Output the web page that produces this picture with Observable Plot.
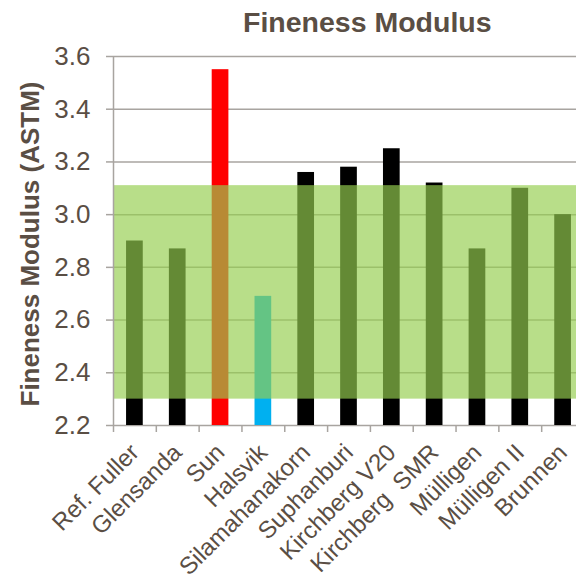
<!DOCTYPE html>
<html>
<head>
<meta charset="utf-8">
<script src="https://cdn.jsdelivr.net/npm/d3@7"></script>
<script src="https://cdn.jsdelivr.net/npm/@observablehq/plot@0.6"></script>
<style>
  html, body { margin: 0; padding: 0; background: #fff; }
  #wrap { width: 576px; height: 574px; overflow: hidden; font-family: "Liberation Sans", Arial, sans-serif; }
  #title { height: 44px; padding-top: 2px; box-sizing: border-box; line-height: 40px; font-size: 28.5px;
           font-weight: bold; color: #5a4e44; padding-left: 243px; white-space: nowrap; }
  #chart { width: 576px; overflow: hidden; }
  #chart svg { display: block; overflow: hidden; max-width: none; }
  #chart svg text { white-space: pre; }
</style>
</head>
<body>
<div id="wrap">
  <div id="title">Fineness Modulus</div>
  <div id="chart"></div>
</div>
<script>
// Fineness modulus of each sand (ASTM)
const samples = ["Ref. Fuller", "Glensanda", "Sun", "Halsvik", "Silamahanakorn", "Suphanburi",
                 "Kirchberg V20", "Kirchberg  SMR", "Mülligen", "Mülligen II", "Brunnen"];
const modulus = [2.90, 2.87, 3.55, 2.69, 3.16, 3.18, 3.25, 3.12, 2.87, 3.10, 3.00];

// Recommended range of the fineness modulus
const rangeLow = 2.3;
const rangeHigh = 3.11;

// Value axis
const yTicks = [2.2, 2.4, 2.6, 2.8, 3.0, 3.2, 3.4, 3.6];

const data = samples.map((name, i) => ({name, value: modulus[i]}));

const textColor = "#5a4e44";
const gridColor = "#a8a4a0";
const barFill = d => d.name === "Sun" ? "#ff0000" : d.name === "Halsvik" ? "#00b0f0" : "#000000";

// the plot runs a little past the right edge of the page, where the last band is cut
const width = 584, height = 530;
const marginLeft = 113, marginRight = 0, marginTop = 12, marginBottom = 149;
const step = (width - marginLeft - marginRight) / samples.length;

const chart = Plot.plot({
  width, height, marginLeft, marginRight, marginTop, marginBottom,
  style: {fontFamily: "'Liberation Sans', Arial, sans-serif", color: textColor, background: "#fff", maxWidth: "none"},
  x: {domain: samples, paddingInner: 0.61, paddingOuter: 0.305, round: false, label: null},
  y: {domain: [yTicks[0], yTicks[yTicks.length - 1]], label: null},
  marks: [
    Plot.gridY(yTicks, {stroke: gridColor, strokeOpacity: 1, strokeWidth: 1.5}),
    Plot.barY(data, {x: "name", y1: yTicks[0], y2: "value", fill: barFill}),
    Plot.rect([[rangeLow, rangeHigh]], {y1: d => d[0], y2: d => d[1], fill: "#95ce4f", fillOpacity: 0.67}),
    // left axis line at the first band boundary
    Plot.ruleX([samples[0]], {x: d => d, y1: yTicks[0], y2: yTicks[yTicks.length - 1], dx: -step / 2, stroke: gridColor, strokeWidth: 1.5}),
    // category boundary ticks below the base line
    Plot.ruleX(samples, {x: d => d, y1: yTicks[0], y2: yTicks[0], insetBottom: -7, dx: -step / 2, stroke: gridColor, strokeWidth: 1.5}),
    Plot.axisY(yTicks, {tickSize: 7, tickPadding: 16, tickFormat: d3.format(".1f"), stroke: gridColor,
      strokeWidth: 1.5, fontSize: 26, fill: textColor, label: null}),
    Plot.axisX({tickSize: 0, tickRotate: -45, tickPadding: 23, fontSize: 24, fill: textColor, label: null, dx: 0}),
    Plot.text(["Fineness Modulus (ASTM)"], {frameAnchor: "left", rotate: -90, dx: -83, dy: 3,
      textAnchor: "middle", fontSize: 26, fontWeight: "bold", fill: textColor, text: d => d})
  ]
});

document.getElementById("chart").appendChild(chart);
</script>
</body>
</html>
